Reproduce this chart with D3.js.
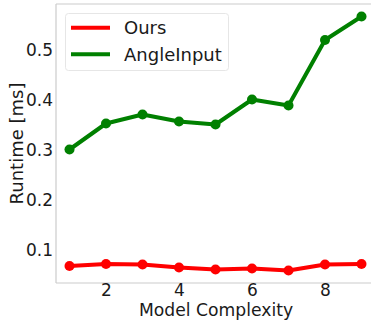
<!DOCTYPE html>
<html><head><meta charset="utf-8">
<script src="https://cdn.jsdelivr.net/npm/d3@7"></script>
<style>body{margin:0;background:#fff}svg{display:block}</style>
</head><body>
<script>
const complexity = [1,2,3,4,5,6,7,8,9];
const ours = [0.068,0.072,0.071,0.065,0.061,0.063,0.059,0.071,0.072];
const angleInput = [0.301,0.353,0.371,0.357,0.351,0.401,0.389,0.520,0.567];
const xTicks = [2,4,6,8];
const yTicks = [0.1,0.2,0.3,0.4,0.5];
const seriesNames = ["Ours","AngleInput"];
const seriesColors = ["#ff0000","#008000"];

(function(){
const W=371,H=320;
const mL=56, mT=4, mB=283, mR=371;
const x = d3.scaleLinear().domain([0.63, 9.4]).range([mL, mL+(9.4-0.63)*36.5]);
const y = d3.scaleLinear().domain([0.034, 0.592]).range([mB, mT]);

const svg = d3.select("body").append("svg").attr("width",W).attr("height",H)
  .style("font-family","'DejaVu Sans', sans-serif");

svg.append("line").attr("x1",mL).attr("x2",mL).attr("y1",mT).attr("y2",mB).attr("stroke","#cccccc").attr("stroke-width",1.2);
svg.append("line").attr("x1",mL).attr("x2",mR).attr("y1",mB).attr("y2",mB).attr("stroke","#cccccc").attr("stroke-width",1.2);
svg.append("line").attr("x1",mL).attr("x2",mR).attr("y1",mT).attr("y2",mT).attr("stroke","#cccccc").attr("stroke-width",1.2);

const xAxis = d3.axisBottom(x).tickValues(xTicks).tickSize(0).tickPadding(1.4).tickFormat(d3.format("d"));
const gx = svg.append("g").attr("transform",`translate(0,${mB})`).call(xAxis);
gx.select(".domain").remove();
gx.selectAll("text").attr("font-size",17).attr("fill","#1a1a1a").attr("font-family","'DejaVu Sans', sans-serif");

const yAxis = d3.axisLeft(y).tickValues(yTicks).tickSize(0).tickPadding(3).tickFormat(d3.format(".1f"));
const gy = svg.append("g").attr("transform",`translate(${mL},0)`).call(yAxis);
gy.select(".domain").remove();
gy.selectAll("text").attr("font-size",17).attr("fill","#1a1a1a").attr("font-family","'DejaVu Sans', sans-serif");

svg.append("text").attr("x",216).attr("y",315.8).attr("text-anchor","middle")
  .attr("font-size",17.2).attr("fill","#1a1a1a").text("Model Complexity");
svg.append("text").attr("transform",`translate(22.5,143.5) rotate(-90)`).attr("text-anchor","middle")
  .attr("font-size",18).attr("fill","#1a1a1a").text("Runtime [ms]");

const data = [ours, angleInput];
const line = d3.line().x((d,i)=>x(complexity[i])).y(d=>y(d));
data.forEach((vals,si)=>{
  svg.append("path").datum(vals).attr("d",line).attr("fill","none")
    .attr("stroke",seriesColors[si]).attr("stroke-width",4).attr("stroke-linejoin","round");
  svg.selectAll(null).data(vals).enter().append("circle")
    .attr("cx",(d,i)=>x(complexity[i])).attr("cy",d=>y(d)).attr("r",5).attr("fill",seriesColors[si]);
});

const lg = svg.append("g");
lg.append("rect").attr("x",65.5).attr("y",13.5).attr("width",163).attr("height",57).attr("rx",3)
  .attr("fill","#fff").attr("fill-opacity",0.8).attr("stroke","#e6e6e6").attr("stroke-width",1);
seriesNames.forEach((n,i)=>{
  const yy = 27.7 + i*26.6;
  lg.append("line").attr("x1",71).attr("x2",110).attr("y1",yy).attr("y2",yy).attr("stroke",seriesColors[i]).attr("stroke-width",4);
  lg.append("text").attr("x",124).attr("y",yy+6.5).attr("font-size",18).attr("fill","#1a1a1a").text(n);
});
})();
</script>
</body></html>
